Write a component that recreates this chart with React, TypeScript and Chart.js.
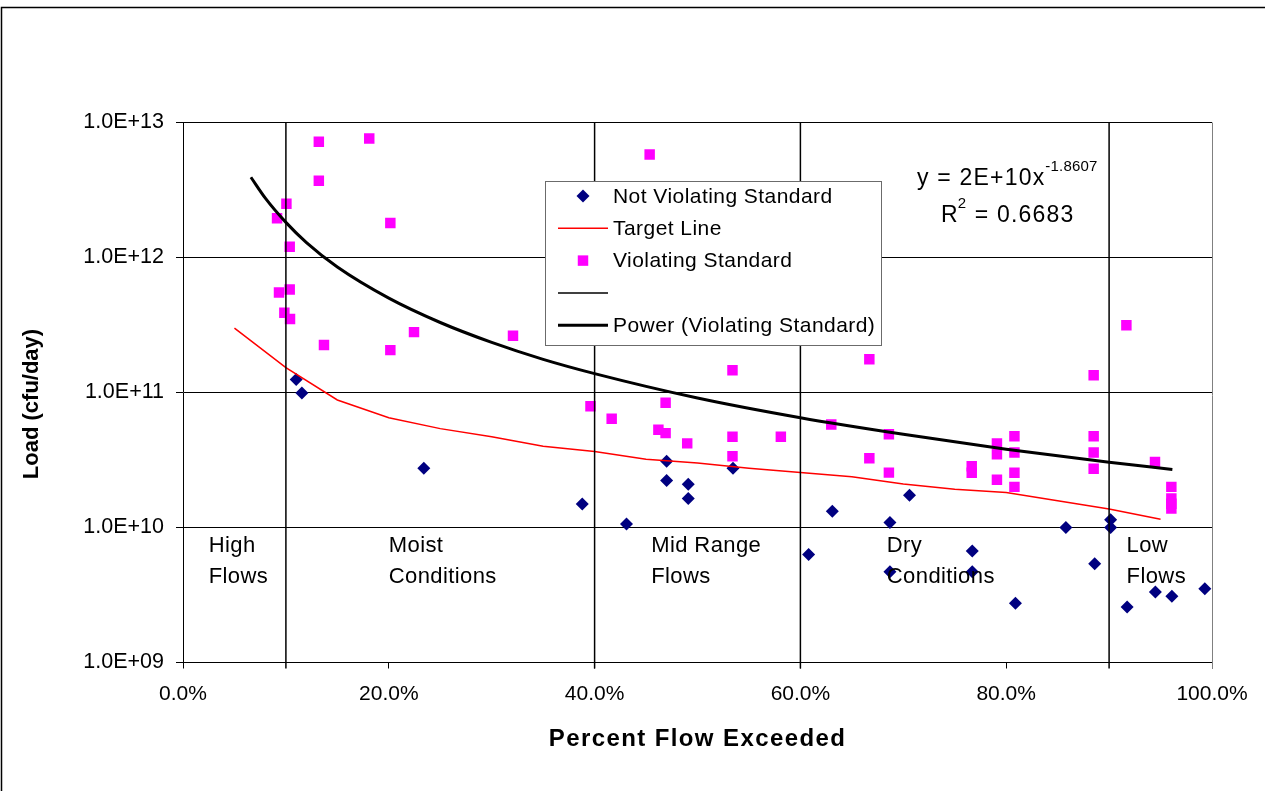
import React, { useEffect, useRef } from "react";
import { Chart, registerables } from "chart.js";

Chart.register(...registerables);

// ---------- data ----------
const notViolatingX = [0.110, 0.1155, 0.234, 0.388, 0.431, 0.470, 0.470, 0.491, 0.491, 0.5345, 0.608, 0.631, 0.687, 0.687, 0.706, 0.767, 0.767, 0.809, 0.858, 0.886, 0.9015, 0.9015, 0.9175, 0.945, 0.961, 0.993];
const notViolatingY = [1.25e11, 9.9e10, 2.75e10, 1.49e10, 1.06e10, 3.1e10, 2.23e10, 2.09e10, 1.64e10, 2.75e10, 6.3e9, 1.32e10, 1.09e10, 4.7e9, 1.73e10, 6.7e9, 4.7e9, 2.75e9, 1.0e10, 5.4e9, 1.14e10, 1.0e10, 2.58e9, 3.33e9, 3.1e9, 3.52e9];

const violatingX = [0.0914, 0.1005, 0.132, 0.181, 0.132, 0.2015, 0.1037, 0.1037, 0.0933, 0.0985, 0.104, 0.137, 0.2015, 0.2245, 0.3207, 0.396, 0.4166, 0.4535, 0.469, 0.462, 0.469, 0.490, 0.534, 0.534, 0.534, 0.581, 0.630, 0.667, 0.667, 0.686, 0.686, 0.7665, 0.7665, 0.791, 0.791, 0.791, 0.808, 0.808, 0.808, 0.808, 0.885, 0.885, 0.885, 0.885, 0.9168, 0.9446, 0.9605, 0.9605, 0.9605, 0.9605];
const violatingY = [1.95e12, 2.5e12, 7.2e12, 7.6e12, 3.7e12, 1.8e12, 1.2e12, 5.8e11, 5.5e11, 3.9e11, 3.5e11, 2.25e11, 2.06e11, 2.8e11, 2.63e11, 7.9e10, 6.4e10, 5.8e12, 8.4e10, 5.3e10, 5.0e10, 4.2e10, 1.46e11, 4.7e10, 3.37e10, 4.7e10, 5.8e10, 1.76e11, 3.26e10, 4.9e10, 2.55e10, 2.84e10, 2.54e10, 4.2e10, 3.49e10, 2.26e10, 4.74e10, 3.6e10, 2.54e10, 2.0e10, 1.34e11, 4.74e10, 3.6e10, 2.72e10, 3.15e11, 3.06e10, 2.0e10, 1.64e10, 1.5e10, 1.38e10];

const targetX = [0.05, 0.10, 0.15, 0.20, 0.25, 0.30, 0.35, 0.40, 0.45, 0.50, 0.55, 0.60, 0.65, 0.70, 0.75, 0.80, 0.85, 0.90, 0.95];
const targetY = [3.0e11, 1.53e11, 8.8e10, 6.5e10, 5.4e10, 4.7e10, 4.0e10, 3.65e10, 3.2e10, 3.0e10, 2.75e10, 2.55e10, 2.38e10, 2.1e10, 1.92e10, 1.82e10, 1.58e10, 1.37e10, 1.15e10];

const trendX = [0.066, 0.08, 0.10, 0.12, 0.15, 0.20, 0.25, 0.30, 0.35, 0.40, 0.50, 0.60, 0.70, 0.80, 0.90, 0.9615];
const trendY = [3.93e12, 2.75e12, 1.82e12, 1.29e12, 8.5e11, 5.0e11, 3.3e11, 2.35e11, 1.76e11, 1.38e11, 9.1e10, 6.5e10, 4.9e10, 3.8e10, 3.04e10, 2.69e10];

const zoneBoundaries = [0.1, 0.4, 0.6, 0.9];
const zoneLabels = [["High", "Flows"], ["Moist", "Conditions"], ["Mid Range", "Flows"], ["Dry", "Conditions"], ["Low", "Flows"]];
const zoneLabelX = [0.025, 0.2, 0.455, 0.684, 0.917];
const zoneLabelY = 6.6e9;

const yTicks = [1e9, 1e10, 1e11, 1e12, 1e13];
const xTicks = [0, 0.2, 0.4, 0.6, 0.8, 1.0];

const seriesLabels = ["Not Violating Standard", "Target Line", "Violating Standard", "", "Power (Violating Standard)"];
const equationMain = "y = 2E+10x";
const equationExp = "-1.8607";
const rSquared = "0.6683";

const xTitle = "Percent Flow Exceeded";
const yTitle = "Load (cfu/day)";

// ---------- styling ----------
const FONT = "'Liberation Sans', Arial, Helvetica, sans-serif";
const W = 1265;
const H = 791;

function fmtExp(v: number): string {
  const s = v.toExponential(1).toUpperCase();
  const m = s.match(/^(.*)E([+-])(\d+)$/);
  if (!m) return s;
  return `${m[1]}E${m[2]}${m[3].padStart(2, "0")}`;
}

function setSpacing(ctx: CanvasRenderingContext2D, px: number) {
  (ctx as any).letterSpacing = `${px}px`;
}

function drawMarker(ctx: CanvasRenderingContext2D, style: string, x: number, y: number, r: number, color: string) {
  ctx.fillStyle = color;
  ctx.beginPath();
  if (style === "rect") {
    const s = r * Math.SQRT1_2;
    ctx.rect(x - s, y - s, 2 * s, 2 * s);
  } else {
    ctx.moveTo(x, y - r);
    ctx.lineTo(x + r, y);
    ctx.lineTo(x, y + r);
    ctx.lineTo(x - r, y);
    ctx.closePath();
  }
  ctx.fill();
}

const decorPlugin = {
  id: "decor",
  afterDraw(chart: any) {
    const ctx: CanvasRenderingContext2D = chart.ctx;
    const { left, right, top, bottom } = chart.chartArea;
    const xs = chart.scales.x;
    const ys = chart.scales.y;
    ctx.save();

    // right plot border (gray)
    ctx.strokeStyle = "#808080";
    ctx.lineWidth = 1;
    const rx = Math.round(right) + 0.5;
    ctx.beginPath();
    ctx.moveTo(rx, top);
    ctx.lineTo(rx, bottom + 6);
    ctx.stroke();

    // divider extensions below the axis
    ctx.strokeStyle = "#000";
    ctx.lineWidth = 1.5;
    zoneBoundaries.forEach((b) => {
      const px = xs.getPixelForValue(b);
      ctx.beginPath();
      ctx.moveTo(px, bottom);
      ctx.lineTo(px, bottom + 6);
      ctx.stroke();
    });

    // zone labels
    ctx.fillStyle = "#000";
    ctx.font = `22px ${FONT}`;
    setSpacing(ctx, 0.4);
    ctx.textAlign = "left";
    ctx.textBaseline = "alphabetic";
    const y0 = ys.getPixelForValue(zoneLabelY);
    zoneLabels.forEach((lines, i) => {
      const px = xs.getPixelForValue(zoneLabelX[i]);
      lines.forEach((t, j) => ctx.fillText(t, px, y0 + j * 31));
    });

    // equation
    ctx.font = `23px ${FONT}`;
    setSpacing(ctx, 1.2);
    const ex = 917;
    ctx.fillText(equationMain, ex, 185);
    const w1 = ctx.measureText(equationMain).width;
    ctx.font = `15px ${FONT}`;
    setSpacing(ctx, 0.2);
    ctx.fillText(equationExp, ex + w1, 171);
    ctx.font = `23px ${FONT}`;
    setSpacing(ctx, 1.2);
    const rx0 = 941;
    ctx.fillText("R", rx0, 222);
    const wr = ctx.measureText("R").width;
    ctx.font = `15px ${FONT}`;
    setSpacing(ctx, 0);
    ctx.fillText("2", rx0 + wr - 1, 208);
    const w2 = ctx.measureText("2").width;
    ctx.font = `23px ${FONT}`;
    setSpacing(ctx, 1.2);
    ctx.fillText(" = " + rSquared, rx0 + wr + w2, 222);

    // axis titles
    ctx.textAlign = "center";
    ctx.textBaseline = "middle";
    ctx.font = `bold 24px ${FONT}`;
    setSpacing(ctx, 1.4);
    ctx.fillText(xTitle, (left + right) / 2, 739);
    ctx.font = `bold 22px ${FONT}`;
    setSpacing(ctx, 0);
    ctx.save();
    ctx.translate(32, 404);
    ctx.rotate(-Math.PI / 2);
    ctx.fillText(yTitle, 0, 0);
    ctx.restore();

    // legend
    const lx = 545.5, ly = 181.5, lw = 336, lh = 164;
    ctx.fillStyle = "#fff";
    ctx.fillRect(lx, ly, lw, lh);
    ctx.strokeStyle = "#6b6b6b";
    ctx.lineWidth = 1;
    ctx.strokeRect(lx, ly, lw, lh);
    ctx.font = `21px ${FONT}`;
    setSpacing(ctx, 0.45);
    ctx.textAlign = "left";
    ctx.textBaseline = "middle";
    chart.data.datasets.forEach((ds: any, i: number) => {
      const cy = ly + 14.5 + i * 32.3;
      if (ds.showLine) {
        ctx.strokeStyle = ds.borderColor;
        ctx.lineWidth = ds.borderWidth;
        ctx.beginPath();
        ctx.moveTo(558, cy);
        ctx.lineTo(608, cy);
        ctx.stroke();
      } else {
        drawMarker(ctx, ds.pointStyle, 583, cy, ds.pointRadius, ds.backgroundColor);
      }
      ctx.fillStyle = "#000";
      ctx.fillText(ds.label, 613, cy + 1);
    });
    setSpacing(ctx, 0);

    // outer frame
    ctx.strokeStyle = "#000";
    ctx.lineWidth = 1.5;
    ctx.strokeRect(1.5, 7.5, W + 20, H + 20);
    ctx.restore();
  },
};

export default function App() {
  const ref = useRef<HTMLCanvasElement | null>(null);

  useEffect(() => {
    if (!ref.current) return;
    Chart.defaults.font.family = FONT;
    const yMin = yTicks[0];
    const yMax = yTicks[yTicks.length - 1];

    const dividerData: any[] = [];
    zoneBoundaries.forEach((b) => {
      dividerData.push({ x: b, y: yMin }, { x: b, y: yMax }, { x: b, y: null });
    });

    const chart = new Chart(ref.current, {
      type: "scatter",
      data: {
        datasets: [
          {
            label: seriesLabels[0],
            data: notViolatingX.map((x, i) => ({ x, y: notViolatingY[i] })),
            pointStyle: "rectRot",
            pointRadius: 6.5,
            backgroundColor: "#000080",
            borderColor: "#000080",
            borderWidth: 0,
            showLine: false,
            order: 5,
          },
          {
            label: seriesLabels[1],
            data: targetX.map((x, i) => ({ x, y: targetY[i] })),
            showLine: true,
            borderColor: "#ff0000",
            borderWidth: 1.5,
            pointRadius: 0,
            order: 4,
          },
          {
            label: seriesLabels[2],
            data: violatingX.map((x, i) => ({ x, y: violatingY[i] })),
            pointStyle: "rect",
            pointRadius: 7.4,
            backgroundColor: "#ff00ff",
            borderColor: "#ff00ff",
            borderWidth: 0,
            showLine: false,
            order: 3,
          },
          {
            label: seriesLabels[3],
            data: dividerData,
            showLine: true,
            spanGaps: false,
            borderColor: "#000",
            borderWidth: 1.5,
            pointRadius: 0,
            order: 2,
          },
          {
            label: seriesLabels[4],
            data: trendX.map((x, i) => ({ x, y: trendY[i] })),
            showLine: true,
            borderColor: "#000",
            borderWidth: 3,
            pointRadius: 0,
            cubicInterpolationMode: "monotone",
            order: 1,
          },
        ] as any,
      },
      options: {
        responsive: false,
        animation: false,
        events: [],
        layout: { padding: { top: 122.5, left: 0, right: W - 1212, bottom: 0 } },
        plugins: {
          legend: { display: false },
          tooltip: { enabled: false },
        },
        scales: {
          x: {
            type: "linear",
            min: 0,
            max: 1,
            afterBuildTicks: (s: any) => {
              s.ticks = xTicks.map((v) => ({ value: v }));
            },
            afterFit: (s: any) => {
              s.height = H - 662.5;
            },
            ticks: {
              color: "#000",
              font: { size: 21, family: FONT },
              padding: 13,
              maxRotation: 0,
              callback: (v: any) => (Number(v) * 100).toFixed(1) + "%",
            },
            grid: { drawOnChartArea: false, drawTicks: true, tickLength: 6, color: "#000", lineWidth: 1 },
            border: { display: true, color: "#000", width: 1 },
          },
          y: {
            type: "logarithmic",
            min: yMin,
            max: yMax,
            afterBuildTicks: (s: any) => {
              s.ticks = yTicks.map((v) => ({ value: v, major: true }));
            },
            afterFit: (s: any) => {
              s.width = 183;
            },
            ticks: {
              color: "#000",
              font: { size: 21.5, family: FONT },
              padding: 12,
              callback: (v: any) => fmtExp(Number(v)),
            },
            grid: { color: "#000", lineWidth: 1, drawTicks: true, tickLength: 7 },
            border: { display: true, color: "#000", width: 1 },
          },
        },
      } as any,
      plugins: [decorPlugin],
    });
    return () => chart.destroy();
  }, []);

  return (
    <div style={{ position: "fixed", left: 0, top: 0, width: W, height: H, background: "#fff" }}>
      <canvas ref={ref} width={W} height={H} style={{ display: "block" }} />
    </div>
  );
}
